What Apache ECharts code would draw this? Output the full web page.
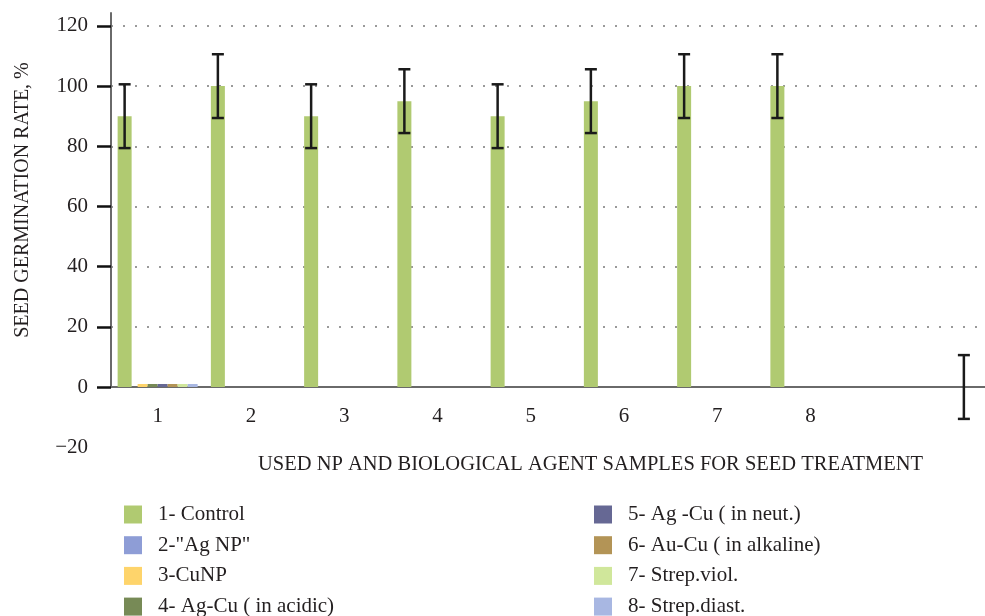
<!DOCTYPE html>
<html>
<head>
<meta charset="utf-8">
<script src="https://cdn.jsdelivr.net/npm/echarts@6/dist/echarts.min.js"></script>
<style>
html,body{margin:0;padding:0;background:#fff;}
#chart{width:985px;height:616px;}
</style>
</head>
<body>
<div id="chart"></div>
<script>
// ---- data ----
const categories = ['1','2','3','4','5','6','7','8','',''];
const seriesNames = ['1- Control','2-"Ag NP"','3-CuNP','4- Ag-Cu ( in acidic)','5- Ag -Cu ( in neut.)','6- Au-Cu ( in alkaline)','7- Strep.viol.','8- Strep.diast.'];
const control   = [90, 100, 90, 95, 90, 95, 100, 100, null, 0];
const agNP      = [0, 0, 0, 0, 0, 0, 0, 0, null, null];
const cuNP      = [1, 0, 0, 0, 0, 0, 0, 0, null, null];
const agCuAcid  = [1, 0, 0, 0, 0, 0, 0, 0, null, null];
const agCuNeut  = [1, 0, 0, 0, 0, 0, 0, 0, null, null];
const auCuAlk   = [1, 0, 0, 0, 0, 0, 0, 0, null, null];
const strepViol = [1, 0, 0, 0, 0, 0, 0, 0, null, null];
const strepDiast= [1, 0, 0, 0, 0, 0, 0, 0, null, null];
const controlErr = [10.6, 10.6, 10.6, 10.6, 10.6, 10.6, 10.6, 10.6, null, 10.6];
const yTickValues = [0, 20, 40, 60, 80, 100, 120];
const yLowTick = -20;

// ---- styles ----
const colors = ['#b0ca71','#8e9dd6','#fed46b','#778a56','#666894','#b39456','#d0e79b','#a8b7e2'];
const barWidths = [14, 6, 10, 10, 10, 10, 10, 10];
const FONT = '"Liberation Serif", "DejaVu Serif", serif';
const TXT = '#231f20';

const seriesData = [control, agNP, cuNP, agCuAcid, agCuNeut, auCuAlk, strepViol, strepDiast];
const totalW = barWidths.reduce((a,b)=>a+b,0);
const errOffset = -totalW/2 + barWidths[0]/2;

const errData = [];
control.forEach((v,i)=>{
  if (v != null && controlErr[i] != null) errData.push([i, v - controlErr[i], v + controlErr[i]]);
});

const barSeries = seriesNames.map((n,k)=>({
  name: n, type: 'bar', xAxisIndex: 0, yAxisIndex: 0,
  data: seriesData[k], barWidth: barWidths[k], barGap: 0,
  itemStyle: {color: colors[k]}, animation: false
}));

const legendBase = {
  orient: 'horizontal', top: 504, width: 10, padding: 0,
  icon: 'rect', itemWidth: 18, itemHeight: 18, itemGap: 9.7,
  textStyle: {color: TXT, fontFamily: FONT, fontSize: 21, padding: [0,0,0,11]}
};

const chart = echarts.init(document.getElementById('chart'), null, {renderer:'canvas'});
chart.setOption({
  animation: false,
  color: colors,
  grid: [
    {left: 111, top: 13, width: 93.25 * categories.length, height: 387 - 13, outerBoundsMode: 'none', containLabel: false},
    {left: 111, top: 387, width: 100, height: 60.3, outerBoundsMode: 'none', containLabel: false}
  ],
  xAxis: [
    {
      type: 'category', gridIndex: 0, data: categories,
      axisLine: {lineStyle: {color: '#6a6a6a', width: 2}},
      axisTick: {alignWithLabel: true, length: 14, lineStyle: {color: '#111', width: 2.5},
                 interval: (idx, val) => val !== ''},
      axisLabel: {color: TXT, fontFamily: FONT, fontSize: 21, margin: 19,
                  interval: (idx, val) => val !== ''},
      name: 'USED NP AND BIOLOGICAL AGENT SAMPLES FOR SEED TREATMENT',
      nameLocation: 'start', nameGap: 0,
      nameTextStyle: {color: TXT, fontFamily: FONT, fontSize: 20.5, align: 'left', verticalAlign: 'top', padding: [67, 0, 0, 147]},
      splitLine: {show: false}
    },
    {type: 'category', gridIndex: 1, data: ['a'], show: false}
  ],
  yAxis: [
    {
      type: 'value', gridIndex: 0, min: 0, max: 124.3, interval: 20,
      axisLine: {show: true, lineStyle: {color: '#6a6a6a', width: 2}},
      axisTick: {show: true, length: 14, lineStyle: {color: '#111', width: 2.5}, customValues: yTickValues},
      axisLabel: {color: TXT, fontFamily: FONT, fontSize: 21, margin: 23,
                  formatter: v => yTickValues.indexOf(v) >= 0 ? String(v) : ''},
      splitLine: {show: true, lineStyle: {type: [2, 10], width: 2,
                  color: ['rgba(0,0,0,0)','#9a9a9a','#9a9a9a','#9a9a9a','#9a9a9a','#9a9a9a','#9a9a9a','rgba(0,0,0,0)']}},
      name: 'SEED GERMINATION RATE, %', nameLocation: 'middle', nameGap: 78,
      nameTextStyle: {color: TXT, fontFamily: FONT, fontSize: 20}
    },
    {
      type: 'value', gridIndex: 1, min: yLowTick, max: 0, interval: 20,
      axisLine: {show: false}, axisTick: {show: false}, splitLine: {show: false},
      axisLabel: {color: TXT, fontFamily: FONT, fontSize: 21, margin: 23,
                  formatter: v => v === yLowTick ? '\u2212' + Math.abs(v) : ''}
    }
  ],
  legend: [
    Object.assign({data: seriesNames.slice(0,4), left: 124}, legendBase),
    Object.assign({data: seriesNames.slice(4), left: 594}, legendBase)
  ],
  series: barSeries.concat([{
    name: 'error', type: 'custom', xAxisIndex: 0, yAxisIndex: 0, clip: false, z: 5,
    data: errData, encode: {x: 0, y: [1, 2]},
    renderItem: function(params, api) {
      const i = api.value(0);
      const lo = api.coord([i, api.value(1)]);
      const hi = api.coord([i, api.value(2)]);
      const x = hi[0] + errOffset;
      const st = {stroke: '#1a1a1a', lineWidth: 2.5};
      return {type: 'group', children: [
        {type: 'line', shape: {x1: x, y1: hi[1], x2: x, y2: lo[1]}, style: st},
        {type: 'line', shape: {x1: x-6, y1: hi[1], x2: x+6, y2: hi[1]}, style: st},
        {type: 'line', shape: {x1: x-6, y1: lo[1], x2: x+6, y2: lo[1]}, style: st}
      ]};
    }
  }])
});
</script>
</body>
</html>
